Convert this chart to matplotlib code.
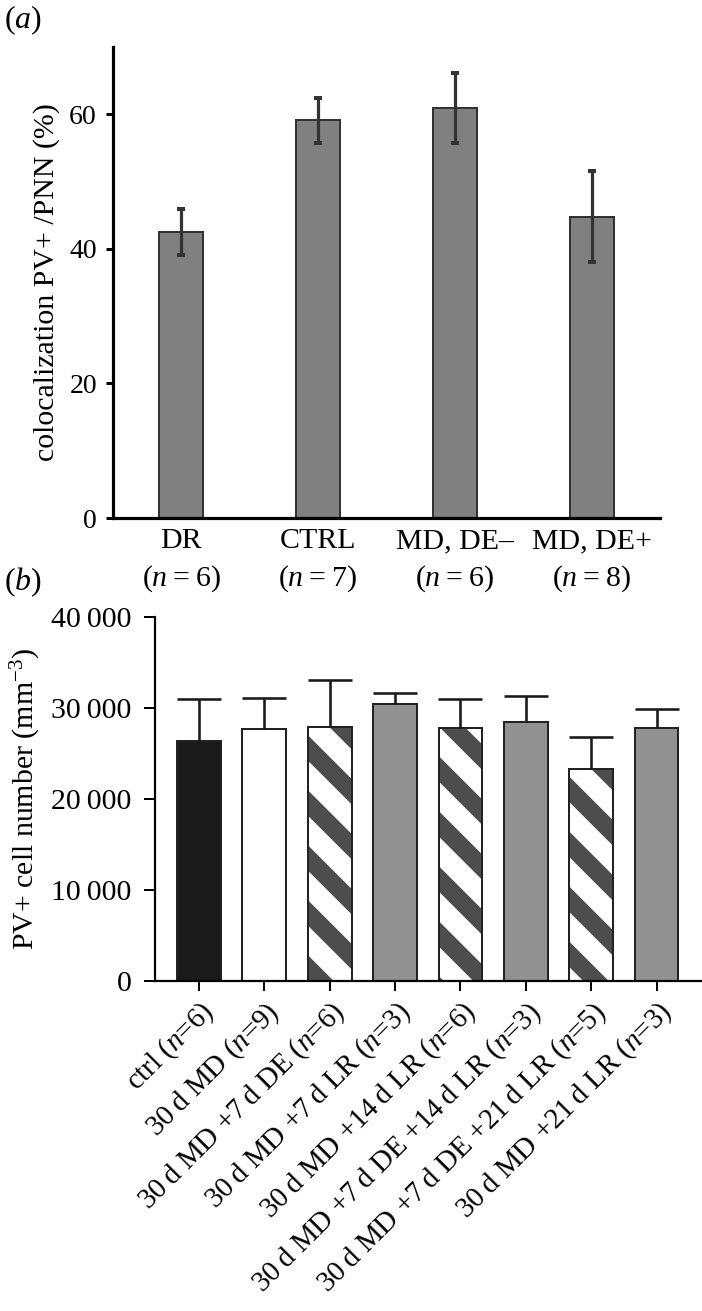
import matplotlib
matplotlib.use("Agg")
import matplotlib.pyplot as plt
from matplotlib.ticker import FuncFormatter

# panel (a) data
groups_a = ["DR", "CTRL", "MD, DE\u2013", "MD, DE+"]
n_a = [6, 7, 6, 8]
coloc = [42.5, 59.1, 61.0, 44.8]
coloc_err = [3.4, 3.3, 5.2, 6.7]
yticks_a = [0, 20, 40, 60]

# panel (b) data
groups_b = ["ctrl", "30\u2009d MD", "30\u2009d MD +7\u2009d DE", "30\u2009d MD +7\u2009d LR",
            "30\u2009d MD +14\u2009d LR", "30\u2009d MD +7\u2009d DE +14\u2009d LR",
            "30\u2009d MD +7\u2009d DE +21\u2009d LR", "30\u2009d MD +21\u2009d LR"]
n_b = [6, 9, 6, 3, 6, 3, 5, 3]
cells = [26400, 27700, 27900, 30450, 27800, 28450, 23300, 27850]
cells_err = [4600, 3400, 5150, 1200, 3200, 2900, 3500, 2000]
yticks_b = [0, 10000, 20000, 30000, 40000]
fills_b = ["#1a1a1a", "white", "white", "#919191", "white", "#919191", "white", "#919191"]
hatched_b = [False, False, True, False, True, False, True, False]

DPI = 330
px = 72 / DPI   # one output pixel in points

plt.rcParams['font.family'] = ['Liberation Serif', 'DejaVu Serif']
plt.rcParams['mathtext.fontset'] = 'custom'
plt.rcParams['mathtext.rm'] = 'Liberation Serif'
plt.rcParams['mathtext.it'] = 'Liberation Serif:italic'
plt.rcParams['hatch.linewidth'] = 18 * px
plt.rcParams['hatch.color'] = '#4d4d4d'

fig = plt.figure(figsize=(702 / DPI, 1311 / DPI), dpi=DPI)
W, H = 702, 1311

# ---------- panel (a)
ax = fig.add_axes([113 / W, 1 - 518 / H, (660 - 113) / W, (518 - 47) / H])
xa = list(range(len(groups_a)))
ax.bar(xa, coloc, width=0.32, color='#808080', edgecolor='#333333', linewidth=2 * px, zorder=2)
ax.errorbar(xa, coloc, yerr=coloc_err, fmt='none', ecolor='#333333', elinewidth=3.2 * px,
            capsize=4 * px, capthick=4 * px, zorder=3)
ax.set_xlim(-0.5, len(groups_a) - 0.5)
ax.set_ylim(0, 70)
ax.set_yticks(yticks_a)
ax.set_xticks(xa)
ax.set_xticklabels([g + "\n($\\it{n}$\u2009=\u20096)".replace("6", str(k)) for g, k in zip(groups_a, n_a)],
                   fontsize=30 * px, linespacing=1.4)
ax.tick_params(axis='x', length=0, pad=10 * px)
ax.tick_params(axis='y', length=7 * px, width=3 * px, pad=9 * px, labelsize=28 * px)
for s in ['top', 'right']:
    ax.spines[s].set_visible(False)
for s in ['left', 'bottom']:
    ax.spines[s].set_linewidth(3.2 * px)
ax.set_ylabel("colocalization PV+ /PNN (%)", fontsize=30 * px, labelpad=9 * px)
fig.text(4 / W, 1 - 20 / H, "($\\it{a}$)", fontsize=32 * px, va='center', ha='left')

# ---------- panel (b)
bx = fig.add_axes([154.5 / W, 1 - 981 / H, (701 - 154.5) / W, (981 - 617) / H])
xb = list(range(len(groups_b)))
for i in xb:
    if hatched_b[i]:
        bx.bar(i, cells[i], width=0.67, color='white', edgecolor='#4d4d4d', hatch='\\\\',
               linewidth=0, zorder=2)
        bx.bar(i, cells[i], width=0.67, fill=False, edgecolor='#222222', linewidth=2 * px, zorder=2)
    else:
        bx.bar(i, cells[i], width=0.67, color=fills_b[i], edgecolor='#222222',
               linewidth=2 * px, zorder=2)
eb = bx.errorbar(xb, cells, yerr=[[0] * len(cells), cells_err], fmt='none', ecolor='#1a1a1a',
                 elinewidth=2.6 * px, capsize=22 * px, capthick=2.6 * px, zorder=3)
eb[1][0].set_visible(False)
bx.set_xlim(-0.68, len(groups_b) - 1 + 0.68)
bx.set_ylim(0, 40000)
bx.set_yticks(yticks_b)
bx.yaxis.set_major_formatter(FuncFormatter(lambda v, p: "{:,}".format(int(v)).replace(",", "\u2009")))
bx.set_xticks(xb)
bx.set_xticklabels(["%s ($\\it{n}$=%d)" % (g, k) for g, k in zip(groups_b, n_b)],
                   rotation=45, ha='right', rotation_mode='anchor', fontsize=29 * px)
bx.tick_params(axis='x', length=10 * px, width=2 * px, pad=6 * px)
bx.tick_params(axis='y', length=11 * px, width=2 * px, pad=12 * px, labelsize=30 * px)
for s in ['top', 'right']:
    bx.spines[s].set_visible(False)
for s in ['left', 'bottom']:
    bx.spines[s].set_linewidth(2.2 * px)
bx.set_ylabel("PV+ cell number (mm$^{-3}$)", fontsize=30 * px, labelpad=8 * px)
fig.text(4 / W, 1 - 582 / H, "($\\it{b}$)", fontsize=32 * px, va='center', ha='left')

fig.savefig("out.png", dpi=DPI, facecolor='white')
